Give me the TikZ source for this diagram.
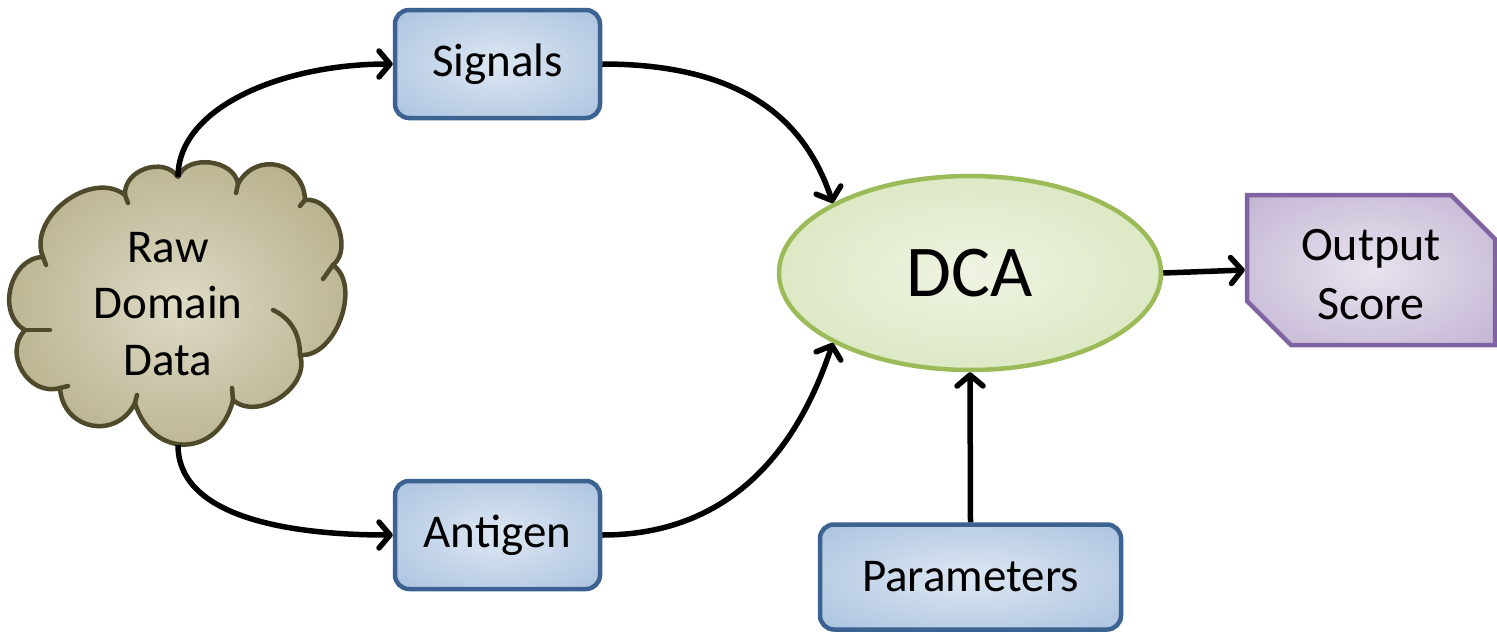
\documentclass[tikz,border=0pt]{standalone}
\usepackage{fontspec}
\setmainfont{Carlito}
\usetikzlibrary{arrows.meta,shapes.geometric,shapes.misc}

\definecolor{boxline}{HTML}{3B6290}
\definecolor{boxin}{HTML}{DDE7F3}
\definecolor{boxout}{HTML}{97B4D8}
\definecolor{dcaline}{HTML}{9BBB59}
\definecolor{dcain}{HTML}{EEF4E2}
\definecolor{dcaout}{HTML}{CCDDA8}
\definecolor{scoreline}{HTML}{8064A2}
\definecolor{scorein}{HTML}{E8E3EE}
\definecolor{scoreout}{HTML}{B3A2C8}
\definecolor{cloudline}{HTML}{4F4A2B}
\definecolor{cloudin}{HTML}{DEDAC5}
\definecolor{cloudout}{HTML}{958D5C}

\pgfdeclareradialshading{boxshade}{\pgfpoint{0bp}{0bp}}{color(0bp)=(boxin); color(50bp)=(boxout); color(75bp)=(boxout)}
\pgfdeclareradialshading{dcashade}{\pgfpoint{0bp}{0bp}}{color(0bp)=(dcain); color(50bp)=(dcaout); color(75bp)=(dcaout)}
\pgfdeclareradialshading{scoreshade}{\pgfpoint{0bp}{0bp}}{color(0bp)=(scorein); color(50bp)=(scoreout); color(75bp)=(scoreout)}
\pgfdeclareradialshading{cloudshade}{\pgfpoint{0bp}{0bp}}{color(0bp)=(cloudin); color(50bp)=(cloudout); color(75bp)=(cloudout)}

\tikzset{
  txt/.style={font=\fontsize{47}{56}\selectfont, align=center, inner sep=0pt},
  bluebox/.style={txt, draw=boxline, line width=4.5pt, rounded corners=14pt,
    shading=boxshade, minimum width=205pt, minimum height=108pt},
  dcanode/.style={ellipse, draw=dcaline, line width=4.5pt, shading=dcashade,
    minimum width=382pt, minimum height=194pt, inner sep=0pt,
    font=\fontsize{73}{80}\selectfont},
  scorenode/.style={txt, chamfered rectangle, chamfered rectangle corners={north east,south west},
    chamfered rectangle xsep=22pt, chamfered rectangle ysep=22pt,
    draw=scoreline, line width=4.5pt, shading=scoreshade,
    minimum width=248pt, minimum height=150pt, font=\fontsize{48}{59}\selectfont},
  cloudedge/.style={draw=cloudline, line width=4.5pt, line join=round, line cap=round},
  conn/.style={line width=5.5pt, -{Straight Barb[length=11pt,width=26pt,round]}},
}

\begin{document}
\begin{tikzpicture}[x=1pt,y=-1pt]
  \fill[white] (0,0) rectangle (1497,635);
  \useasboundingbox (0,0) rectangle (1497,635);

  % cloud outline: notch points between the puffs
  \coordinate (n1) at (43,257);
  \coordinate (n2) at (125,195);
  \coordinate (n3) at (178,177);
  \coordinate (n4) at (238,184);
  \coordinate (n5) at (305,200);
  \coordinate (n6) at (333,265);
  \coordinate (n7) at (300,355);
  \coordinate (n8) at (233,400);
  \coordinate (n9) at (135,403);
  \coordinate (n10) at (60,388);
  \coordinate (n11) at (25,330);
  \path[cloudedge, shading=cloudshade]
    (n1) to[bend left=75,looseness=1.06] (n2)
         to[bend left=75,looseness=1.16] (n3)
         to[bend left=75,looseness=1.06] (n4)
         to[bend left=75,looseness=1.41] (n5)
         to[bend left=75,looseness=0.99] (n6)
         to[bend left=75,looseness=0.95] (n7)
         to[bend left=75,looseness=1.06] (n8)
         to[bend left=75,looseness=1.55] (n9)
         to[bend left=75,looseness=1.41] (n10)
         to[bend left=75,looseness=1.23] (n11)
         to[bend left=75,looseness=1.13] (n1) -- cycle;
  % inner arcs of the cloud
  \draw[cloudedge] (n1) -- +(3,8);
  \draw[cloudedge] (n2) -- +(3,8);
  \draw[cloudedge] (n4) -- +(-2,9);
  \draw[cloudedge] (n5) -- +(-5,6);
  \draw[cloudedge] (n6) -- (323,279);
  \draw[cloudedge] (n7) .. controls (300,333) and (290,318) .. (273,310);
  \draw[cloudedge] (n8) -- (232,388);
  \draw[cloudedge] (n9) -- +(2,-8);
  \draw[cloudedge] (n10) -- +(8,-2);
  \draw[cloudedge] (n11) -- (50,330);

  \node[txt, font=\fontsize{47}{56.5}\selectfont] (raw) at (168,304) {Raw\\Domain\\Data};
  \coordinate (ct) at (178,177);
  \coordinate (cb) at (178,445);

  \node[bluebox] (sig) at (497.5,64) {Signals};
  \node[bluebox] (ant) at (497.5,535) {Antigen};
  \node[bluebox, minimum width=301pt, minimum height=105pt] (par) at (970.5,577) {Parameters};
  \node[dcanode] (dca) at (970,273) {DCA};
  \node[scorenode] (score) at (1371,270) {\strut Output\\Score};

  \draw[conn] (ct) .. controls +(0,-70) and +(-110,0) .. (sig.west);
  \draw[conn] (cb) .. controls +(0,70) and +(-110,0) .. (ant.west);
  \draw[conn] (sig.east) .. controls +(150,0) and +(-25,-75) .. (dca.153);
  \draw[conn] (ant.east) .. controls +(150,0) and +(-25,75) .. (dca.207);
  \draw[conn] (par.north) -- (dca.south);
  \draw[conn] (dca.east) -- (score.west);
\end{tikzpicture}
\end{document}
